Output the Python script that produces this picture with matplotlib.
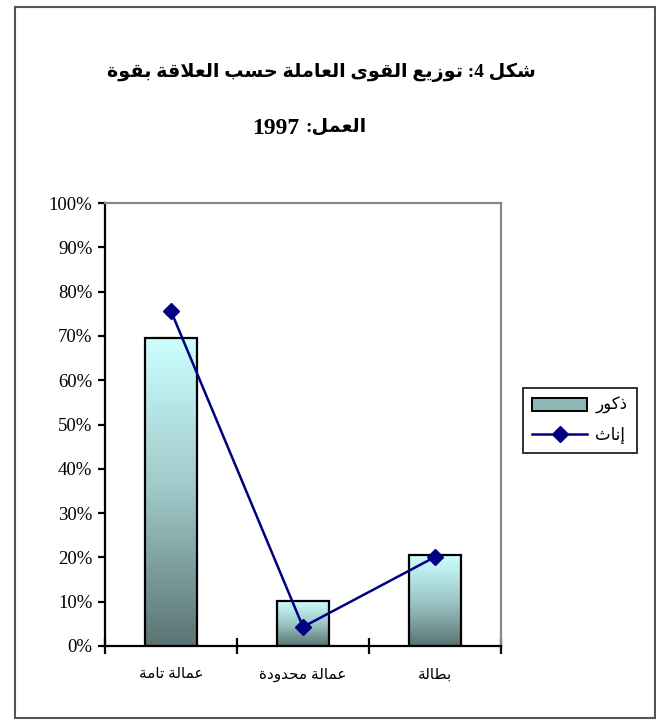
import unicodedata

import numpy as np
import matplotlib
matplotlib.use("Agg")
import matplotlib.pyplot as plt
from matplotlib.colors import LinearSegmentedColormap
from matplotlib.lines import Line2D
from matplotlib.patches import Patch, Rectangle

# data
categories = ["عمالة تامة", "عمالة محدودة", "بطالة"]
males = [69.5, 10.2, 20.5]      # ذكور (bars)
females = [75.6, 4.3, 20.1]     # إناث (line)
y_ticks = list(range(0, 101, 10))
title_1 = "شكل 4: توزيع القوى العاملة حسب العلاقة بقوة"
title_2_word = "العمل:"
title_2_year = "1997"
label_m = "ذكور"
label_f = "إناث"


def _form(token, kind):
    name = "ARABIC LIGATURE LAM WITH ALEF" if token == "لا" else unicodedata.name(token)
    try:
        return unicodedata.lookup(f"{name} {kind} FORM")
    except KeyError:
        return None


def _shape_run(run):
    # lam + alef -> ligature, then contextual forms, then reverse for display
    toks, i = [], 0
    while i < len(run):
        if run[i] == "ل" and i + 1 < len(run) and run[i + 1] == "ا":
            toks.append("لا"); i += 2
        else:
            toks.append(run[i]); i += 1
    dual = [_form(t, "INITIAL") is not None for t in toks]
    out = []
    for k, t in enumerate(toks):
        prev = k > 0 and dual[k - 1]
        nxt = k < len(toks) - 1 and dual[k]
        kind = ("MEDIAL" if prev and nxt else "FINAL" if prev
                else "INITIAL" if nxt else "ISOLATED")
        out.append(_form(t, kind) or _form(t, "ISOLATED") or t)
    return "".join(reversed(out))


def ar(text):
    """matplotlib 3.10 does no Arabic shaping / bidi: do a minimal RTL layout by hand.
    Arabic runs get shaped + reversed, digit runs stay as they are, run order is flipped."""
    runs, cur, kind = [], "", None
    for ch in text:
        k = "a" if "\u0600" <= ch <= "\u06ff" else "d" if ch.isdigit() else "o"
        if k == kind and k != "o":
            cur += ch
        else:
            if cur:
                runs.append((kind, cur))
            cur, kind = ch, k
    if cur:
        runs.append((kind, cur))
    return "".join(_shape_run(s) if k == "a" else s for k, s in reversed(runs))


FONT = ["Liberation Serif", "DejaVu Sans"]
W, H = 656, 724
fig = plt.figure(figsize=(W / 100, H / 100), dpi=100)

# outer frame
fig.patches.append(Rectangle((14.5 / W, 1 - 718 / H), 640 / W, 711.5 / H,
                             transform=fig.transFigure, fill=False,
                             ec="#555555", lw=1.5))

ax = fig.add_axes([105 / W, 1 - 646 / H, 396 / W, 443 / H])
x = np.arange(len(categories))
bw = 0.40

cmap = LinearSegmentedColormap.from_list("teal", ["#5b7373", "#9fc7c7", "#ccffff"])
grad = np.linspace(0, 1, 256).reshape(-1, 1)
bars = ax.bar(x, males, width=bw, facecolor="none", edgecolor="black",
              linewidth=1.6, zorder=3)
for b in bars:
    x0, y0, bwid, bh = b.get_x(), b.get_y(), b.get_width(), b.get_height()
    im = ax.imshow(grad, cmap=cmap, origin="lower", aspect="auto",
                   extent=[x0, x0 + bwid, y0, y0 + bh], zorder=2)
    im.set_clip_path(b)

ax.plot(x, females, color="#000080", lw=1.8, marker="D", ms=8.5, zorder=4)

ax.set_xlim(-0.5, 2.5)
ax.set_ylim(0, 100)
ax.set_yticks(y_ticks)
ax.set_yticklabels([f"{v}%" for v in y_ticks], fontfamily=FONT, fontsize=13.5)
ax.tick_params(axis="y", direction="out", length=5, width=1.6, pad=4)

ax.set_xticks([-0.5, 0.5, 1.5, 2.5])
ax.set_xticklabels([])
ax.tick_params(axis="x", which="major", direction="inout", length=12, width=1.6)
ax.set_xticks(x, minor=True)
ax.set_xticklabels([ar(c) for c in categories], minor=True,
                   fontfamily=FONT, fontsize=11)
ax.tick_params(axis="x", which="minor", length=0, pad=16)

for s in ("left", "bottom"):
    ax.spines[s].set_linewidth(1.6)
    ax.spines[s].set_color("black")
for s in ("top", "right"):
    ax.spines[s].set_linewidth(1.6)
    ax.spines[s].set_color("#888888")

# titles (second line split so the year can be in the larger serif face)
fig.text(321 / W, 1 - 72 / H, ar(title_1), ha="center", va="center",
         fontsize=13.8, fontweight="bold", fontfamily=FONT)
fig.text(299 / W, 1 - 128 / H, title_2_year, ha="right", va="center",
         fontsize=17, fontweight="bold", fontfamily=FONT)
fig.text(305 / W, 1 - 127 / H, ar(title_2_word), ha="left", va="center",
         fontsize=13.8, fontweight="bold", fontfamily=FONT)

# legend
handles = [Patch(facecolor="#8fb5b5", edgecolor="black", linewidth=1.4),
           Line2D([], [], color="#000080", lw=1.8, marker="D", ms=8.5)]
leg = fig.legend(handles, [ar(label_m), ar(label_f)],
                 loc="upper left", bbox_to_anchor=(523 / W, 1 - 388 / H),
                 borderaxespad=0, frameon=True, fancybox=False, edgecolor="black",
                 prop={"family": FONT, "size": 12}, handlelength=3.3,
                 handleheight=0.8, borderpad=0.55, labelspacing=0.75,
                 handletextpad=0.5)
leg.get_frame().set_linewidth(1.4)

fig.savefig("out.png", dpi=100)
